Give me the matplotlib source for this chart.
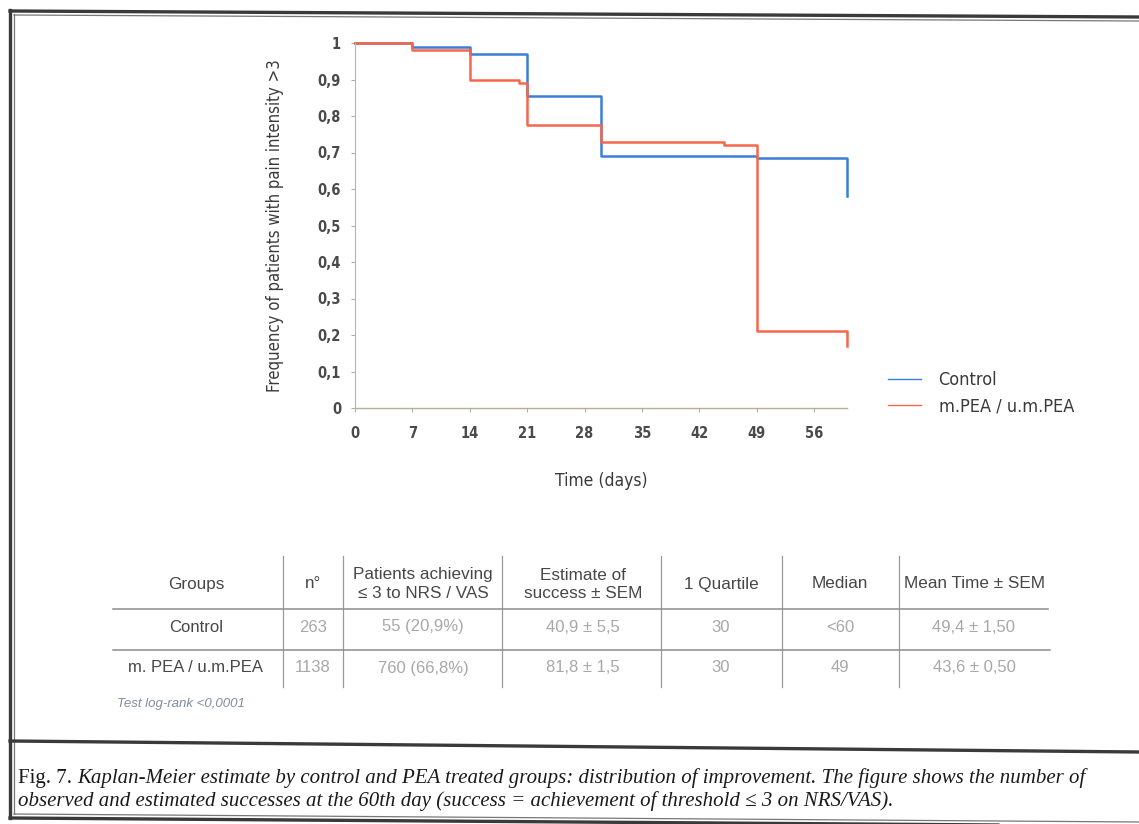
import numpy as np
import matplotlib
matplotlib.use('Agg')
import matplotlib.pyplot as plt
from matplotlib import font_manager

#Kaplan-Meier curves (days, proportion still with pain > 3)
control_t = [0, 7, 14, 21, 30, 49, 60]
control_s = [1.0, 0.99, 0.97, 0.855, 0.69, 0.685, 0.58]
pea_t = [0, 7, 14, 20, 21, 30, 45, 49, 60]
pea_s = [1.0, 0.98, 0.90, 0.89, 0.775, 0.73, 0.72, 0.21, 0.17]

x_ticks = [0, 7, 14, 21, 28, 35, 42, 49, 56]
y_ticks = [0, 0.1, 0.2, 0.3, 0.4, 0.5, 0.6, 0.7, 0.8, 0.9, 1]
y_labels = ['0', '0,1', '0,2', '0,3', '0,4', '0,5', '0,6', '0,7', '0,8', '0,9', '1']

#Summary table
headers = ['Groups', 'n°', 'Patients achieving\n≤ 3 to NRS / VAS', 'Estimate of\nsuccess ± SEM',
           '1 Quartile', 'Median', 'Mean Time ± SEM']
groups = ['Control', 'm. PEA / u.m.PEA']
n_pat = ['263', '1138']
achieving = ['55 (20,9%)', '760 (66,8%)']
estimate = ['40,9 ± 5,5', '81,8 ± 1,5']
quartile = ['30', '30']
median = ['<60', '49']
mean_time = ['49,4 ± 1,50', '43,6 ± 0,50']

caption_head = 'Fig. 7. '
caption_1 = ('Kaplan-Meier estimate by control and PEA treated groups: distribution of improvement. '
             'The figure shows the number of')
caption_2 = 'observed and estimated successes at the 60th day (success = achievement of threshold ≤ 3 on NRS/VAS).'

#Fonts
cond = dict(family='DejaVu Sans', stretch='condensed')
sans = ['Liberation Sans', 'DejaVu Sans']
serif = ['Liberation Serif', 'DejaVu Serif']

W, H = 1139, 824
fig = plt.figure(figsize=(W / 100, H / 100), dpi=100)
fig.patch.set_facecolor('white')

#Background layer in pixel coordinates: frame, table and caption
bg = fig.add_axes([0, 0, 1, 1])
bg.set_xlim(0, W)
bg.set_ylim(H, 0)
bg.axis('off')

frame = '#3a3a3a'
bg.plot([10, 10], [10, 818], color=frame, lw=2.4)
bg.plot([14, 14], [14, 814], color='#777777', lw=0.9)
bg.plot([10, W], [11, 17], color=frame, lw=2.4)
bg.plot([14, W], [15, 21], color='#777777', lw=0.9)
bg.plot([10, W], [741, 752], color=frame, lw=2.4)
bg.plot([10, W], [818, 826], color=frame, lw=2.4)
bg.plot([14, W], [814, 822], color='#777777', lw=0.9)

#Table grid
col_x = [196, 313, 423, 583, 721, 840, 974]
col_sep = [283, 343, 502, 661, 782, 899]
row_y = [627, 668]
for xs in col_sep:
    bg.plot([xs, xs], [556, 687], color='#9a9a9a', lw=0.9)
bg.plot([113, 1048], [609, 609], color='#8c8c8c', lw=1.1)
bg.plot([113, 1050], [650, 650], color='#8c8c8c', lw=1.1)

for cx, h in zip(col_x, headers):
    bg.text(cx, 584, h, ha='center', va='center', fontsize=12.3, color='#474747',
            family=sans, linespacing=1.25)

columns = [groups, n_pat, achieving, estimate, quartile, median, mean_time]
for j, col in enumerate(columns):
    for i, val in enumerate(col):
        colr = '#474747' if j == 0 else '#a8a8a8'
        bg.text(col_x[j], row_y[i], val, ha='center', va='center', fontsize=12,
                color=colr, family=sans)

bg.text(117, 704, 'Test log-rank <0,0001', ha='left', va='center', fontsize=9.5,
        color='#7f8ea0', style='italic', family=sans)

#Caption: roman figure number followed by italic text
renderer = fig.canvas.get_renderer()
head = bg.text(18, 778, caption_head, ha='left', va='center', fontsize=15, color='#1a1a1a',
               family=serif)
bb = head.get_window_extent(renderer=renderer)
x_off = bb.width
bg.text(18 + x_off, 778, caption_1, ha='left', va='center', fontsize=15, color='#1a1a1a',
        family=serif, style='italic')
bg.text(18, 801, caption_2, ha='left', va='center', fontsize=15, color='#1a1a1a',
        family=serif, style='italic')

#Kaplan-Meier plot
ax = fig.add_axes([355 / W, 1 - 408 / H, (847 - 355) / W, (408 - 43) / H])
ax.patch.set_alpha(0)
ax.step(control_t, control_s, where='post', color='#3b7fd6', lw=1.8, label='Control', clip_on=False)
ax.step(pea_t, pea_s, where='post', color='#f5664c', lw=1.8, label='m.PEA / u.m.PEA', clip_on=False)

ax.set_xlim(0, 60)
ax.set_ylim(0, 1)
ax.set_xticks(x_ticks)
ax.set_xticklabels([str(t) for t in x_ticks])
ax.set_yticks(y_ticks)
ax.set_yticklabels(y_labels)
for s in ['top', 'right']:
    ax.spines[s].set_visible(False)
ax.spines['left'].set_color('#b5b5b5')
ax.spines['bottom'].set_color('#b8ad95')
ax.spines['left'].set_linewidth(0.8)
ax.spines['bottom'].set_linewidth(1.0)
ax.tick_params(axis='both', length=3, width=0.7, color='#aaaaaa', labelcolor='#4a4a4a',
               labelsize=10.5)
ax.tick_params(axis='y', pad=7)
ax.tick_params(axis='x', pad=10)
for lab in ax.get_xticklabels() + ax.get_yticklabels():
    lab.set_family(cond['family'])
    lab.set_stretch(cond['stretch'])
    lab.set_weight('bold')

ax.set_xlabel('Time (days)', fontsize=12.5, color='#3a3a3a', labelpad=22, **cond)
ax.set_ylabel('Frequency of patients with pain intensity >3', fontsize=12, color='#3a3a3a',
              labelpad=24, **cond)

leg = ax.legend(loc='upper left', bbox_to_anchor=(888 / W, 1 - 371 / H), bbox_transform=fig.transFigure,
                frameon=False, handlelength=1.8, handletextpad=1.0, labelspacing=0.45,
                borderpad=0, borderaxespad=0,
                prop=font_manager.FontProperties(family='DejaVu Sans', stretch='condensed', size=13))
for line in leg.get_lines():
    line.set_linewidth(1.0)
for t in leg.get_texts():
    t.set_color('#3a3a3a')

fig.savefig('out.png', dpi=100, facecolor='white')
